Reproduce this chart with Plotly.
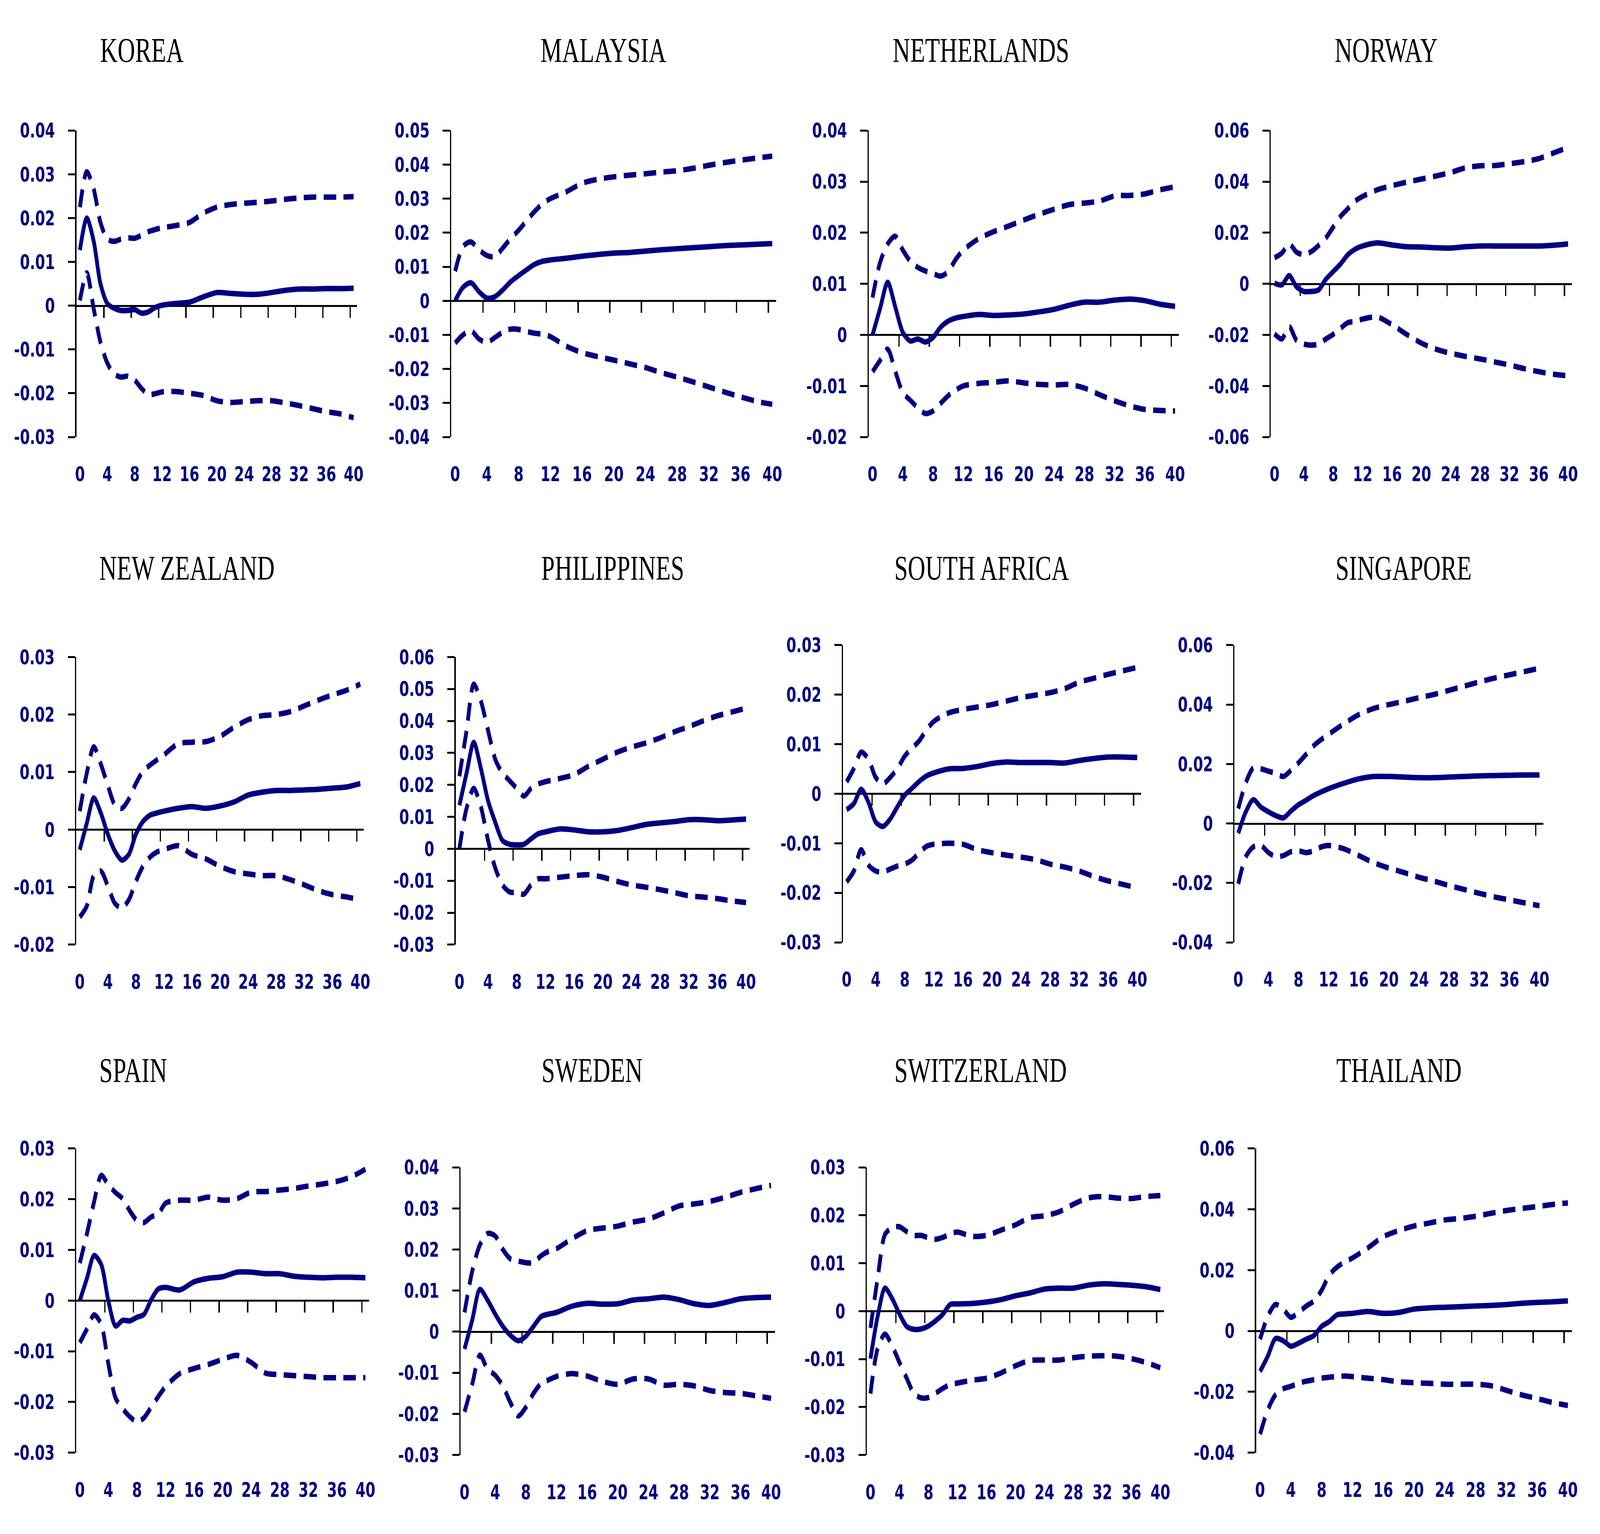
import plotly.graph_objects as go

W, H = 5868, 3928

# ---------------- data ----------------
X = [0, 1, 2, 3, 4, 5, 6, 7, 8, 9, 10, 11, 12, 14, 16, 18, 20, 22, 24, 26, 28, 30, 32, 34, 36, 38, 40]
X_TICKS = [0, 4, 8, 12, 16, 20, 24, 28, 32, 36, 40]
X_TICK_LABELS = ["0", "4", "8", "12", "16", "20", "24", "28", "32", "36", "40"]
X_MINOR_TICKS = [3.5, 7.5, 11.5, 15.5, 19.5, 23.5, 27.5, 31.5, 35.5, 39.5]

COUNTRIES = ["KOREA", "MALAYSIA", "NETHERLANDS", "NORWAY",
             "NEW ZEALAND", "PHILIPPINES", "SOUTH AFRICA", "SINGAPORE",
             "SPAIN", "SWEDEN", "SWITZERLAND", "THAILAND"]

KOREA_IRF = [0.0127, 0.0200, 0.0148, 0.0050, 0.0005, -0.0006, -0.0011, -0.0011, -0.0009, -0.0017, -0.0014, -0.0004, 0.0001,
             0.0005, 0.0008, 0.0020, 0.0030, 0.0028, 0.0026, 0.0026, 0.0030, 0.0035, 0.0038, 0.0038, 0.0039, 0.0039, 0.0040]
KOREA_UP = [0.0225, 0.0306, 0.0267, 0.0190, 0.0152, 0.0147, 0.0152, 0.0155, 0.0154, 0.0161, 0.0169, 0.0174, 0.0178,
            0.0183, 0.0190, 0.0211, 0.0225, 0.0231, 0.0234, 0.0236, 0.0239, 0.0243, 0.0246, 0.0248, 0.0248, 0.0248, 0.0249]
KOREA_LO = [0.0012, 0.0075, -0.0006, -0.0083, -0.0131, -0.0156, -0.0163, -0.0161, -0.0170, -0.0189, -0.0203, -0.0201, -0.0197,
            -0.0196, -0.0200, -0.0205, -0.0217, -0.0221, -0.0219, -0.0217, -0.0217, -0.0222, -0.0228, -0.0235, -0.0242, -0.0247, -0.0256]

MALAYSIA_IRF = [0.0, 0.0040, 0.0053, 0.0027, 0.0008, 0.0012, 0.0032, 0.0056, 0.0074, 0.0091, 0.0107, 0.0116, 0.0120,
                0.0125, 0.0131, 0.0136, 0.0140, 0.0142, 0.0146, 0.0150, 0.0153, 0.0156, 0.0159, 0.0162, 0.0164, 0.0166, 0.0168]
MALAYSIA_UP = [0.0087, 0.0160, 0.0173, 0.0150, 0.0133, 0.0130, 0.0155, 0.0183, 0.0207, 0.0235, 0.0262, 0.0285, 0.0300,
               0.0320, 0.0345, 0.0357, 0.0364, 0.0369, 0.0373, 0.0378, 0.0382, 0.0389, 0.0398, 0.0406, 0.0413, 0.0419, 0.0425]
MALAYSIA_LO = [-0.0124, -0.0100, -0.0088, -0.0112, -0.0122, -0.0108, -0.0092, -0.0083, -0.0084, -0.0090, -0.0095, -0.0098, -0.0105,
               -0.0133, -0.0152, -0.0164, -0.0174, -0.0185, -0.0196, -0.0211, -0.0224, -0.0238, -0.0253, -0.0268, -0.0282, -0.0295, -0.0304]

NETHERLANDS_IRF = [0.0, 0.0052, 0.0103, 0.0055, 0.0005, -0.0012, -0.0008, -0.0014, -0.0005, 0.0015, 0.0027, 0.0033, 0.0036,
                   0.0040, 0.0038, 0.0039, 0.0041, 0.0045, 0.0050, 0.0058, 0.0064, 0.0064, 0.0068, 0.0070, 0.0067, 0.0060, 0.0056]
NETHERLANDS_UP = [0.0073, 0.0142, 0.0178, 0.0193, 0.0166, 0.0144, 0.0132, 0.0125, 0.0120, 0.0115, 0.0124, 0.0148, 0.0166,
                  0.0188, 0.0202, 0.0213, 0.0225, 0.0236, 0.0246, 0.0255, 0.0258, 0.0262, 0.0272, 0.0273, 0.0276, 0.0284, 0.0290]
NETHERLANDS_LO = [-0.0072, -0.0050, -0.0028, -0.0071, -0.0113, -0.0128, -0.0143, -0.0154, -0.0149, -0.0134, -0.0119, -0.0108, -0.0100,
                  -0.0095, -0.0093, -0.0090, -0.0094, -0.0097, -0.0098, -0.0097, -0.0104, -0.0117, -0.0129, -0.0139, -0.0146, -0.0148, -0.0149]

NORWAY_IRF = [0.0002, -0.0004, 0.0032, -0.0012, -0.0030, -0.0030, -0.0024, 0.0018, 0.0048, 0.0078, 0.0114, 0.0136, 0.0148,
              0.0160, 0.0152, 0.0145, 0.0144, 0.0141, 0.0140, 0.0145, 0.0148, 0.0148, 0.0148, 0.0148, 0.0148, 0.0151, 0.0156]
NORWAY_UP = [0.0102, 0.0120, 0.0156, 0.0124, 0.0114, 0.0126, 0.0150, 0.0180, 0.0222, 0.0264, 0.0294, 0.0324, 0.0342,
             0.0368, 0.0384, 0.0398, 0.0410, 0.0422, 0.0436, 0.0454, 0.0462, 0.0463, 0.0470, 0.0478, 0.0490, 0.0512, 0.0534]
NORWAY_LO = [-0.0196, -0.0216, -0.0168, -0.0222, -0.0236, -0.0240, -0.0236, -0.0216, -0.0198, -0.0174, -0.0152, -0.0148, -0.0138,
             -0.0130, -0.0160, -0.0198, -0.0232, -0.0256, -0.0272, -0.0284, -0.0294, -0.0306, -0.0318, -0.0332, -0.0344, -0.0354, -0.0360]

NEW_ZEALAND_IRF = [-0.0035, 0.0011, 0.0055, 0.0029, -0.0008, -0.0037, -0.0053, -0.0043, -0.0008, 0.0014, 0.0025, 0.0029, 0.0032,
                   0.0037, 0.0040, 0.0037, 0.0041, 0.0048, 0.0060, 0.0065, 0.0068, 0.0068, 0.0069, 0.0070, 0.0072, 0.0074, 0.0080]
NEW_ZEALAND_UP = [0.0032, 0.0098, 0.0144, 0.0114, 0.0077, 0.0043, 0.0037, 0.0053, 0.0080, 0.0101, 0.0112, 0.0121, 0.0130,
                  0.0149, 0.0152, 0.0153, 0.0162, 0.0178, 0.0191, 0.0198, 0.0200, 0.0205, 0.0215, 0.0225, 0.0234, 0.0242, 0.0253]
NEW_ZEALAND_LO = [-0.0152, -0.0133, -0.0080, -0.0072, -0.0098, -0.0128, -0.0136, -0.0122, -0.0090, -0.0064, -0.0048, -0.0039, -0.0035,
                  -0.0028, -0.0043, -0.0051, -0.0064, -0.0073, -0.0077, -0.0080, -0.0080, -0.0087, -0.0096, -0.0106, -0.0113, -0.0117, -0.0122]

PHILIPPINES_IRF = [0.0136, 0.0237, 0.0333, 0.0251, 0.0150, 0.0083, 0.0026, 0.0014, 0.0012, 0.0014, 0.0031, 0.0047, 0.0053,
                   0.0062, 0.0059, 0.0053, 0.0053, 0.0057, 0.0066, 0.0076, 0.0081, 0.0085, 0.0091, 0.0091, 0.0088, 0.0090, 0.0093]
PHILIPPINES_UP = [0.0227, 0.0370, 0.0515, 0.0462, 0.0370, 0.0280, 0.0237, 0.0213, 0.0189, 0.0165, 0.0189, 0.0203, 0.0210,
                  0.0220, 0.0232, 0.0258, 0.0280, 0.0302, 0.0318, 0.0331, 0.0347, 0.0366, 0.0382, 0.0400, 0.0416, 0.0428, 0.0440]
PHILIPPINES_LO = [0.0000, 0.0127, 0.0189, 0.0131, 0.0026, -0.0060, -0.0113, -0.0135, -0.0137, -0.0142, -0.0113, -0.0094, -0.0094,
                  -0.0089, -0.0084, -0.0081, -0.0089, -0.0102, -0.0113, -0.0120, -0.0128, -0.0137, -0.0147, -0.0151, -0.0156, -0.0163, -0.0168]

SOUTH_AFRICA_IRF = [-0.0032, -0.0020, 0.0009, -0.0017, -0.0057, -0.0066, -0.0051, -0.0026, -0.0003, 0.0011, 0.0025, 0.0036, 0.0042,
                    0.0050, 0.0051, 0.0055, 0.0061, 0.0064, 0.0063, 0.0063, 0.0063, 0.0062, 0.0067, 0.0071, 0.0074, 0.0074, 0.0073]
SOUTH_AFRICA_UP = [0.0024, 0.0051, 0.0084, 0.0070, 0.0033, 0.0020, 0.0033, 0.0051, 0.0076, 0.0092, 0.0107, 0.0129, 0.0146,
                   0.0163, 0.0170, 0.0175, 0.0180, 0.0187, 0.0194, 0.0199, 0.0204, 0.0212, 0.0225, 0.0233, 0.0241, 0.0248, 0.0255]
SOUTH_AFRICA_LO = [-0.0178, -0.0156, -0.0113, -0.0144, -0.0156, -0.0158, -0.0152, -0.0146, -0.0142, -0.0134, -0.0119, -0.0106, -0.0102,
                   -0.0100, -0.0102, -0.0113, -0.0119, -0.0124, -0.0128, -0.0133, -0.0142, -0.0148, -0.0156, -0.0167, -0.0176, -0.0183, -0.0190]

SINGAPORE_IRF = [-0.0033, 0.0039, 0.0080, 0.0055, 0.0039, 0.0026, 0.0019, 0.0042, 0.0063, 0.0078, 0.0094, 0.0106, 0.0117,
                 0.0135, 0.0150, 0.0158, 0.0158, 0.0156, 0.0154, 0.0154, 0.0156, 0.0158, 0.0160, 0.0161, 0.0162, 0.0163, 0.0163]
SINGAPORE_UP = [0.0050, 0.0137, 0.0187, 0.0184, 0.0176, 0.0168, 0.0158, 0.0179, 0.0204, 0.0232, 0.0261, 0.0282, 0.0300,
                0.0335, 0.0366, 0.0387, 0.0400, 0.0411, 0.0423, 0.0434, 0.0448, 0.0462, 0.0476, 0.0489, 0.0500, 0.0511, 0.0522]
SINGAPORE_LO = [-0.0203, -0.0112, -0.0079, -0.0074, -0.0098, -0.0112, -0.0108, -0.0095, -0.0092, -0.0098, -0.0092, -0.0079, -0.0074,
                -0.0085, -0.0108, -0.0132, -0.0150, -0.0165, -0.0181, -0.0194, -0.0209, -0.0222, -0.0235, -0.0247, -0.0257, -0.0267, -0.0277]

SPAIN_IRF = [0.0, 0.0044, 0.0089, 0.0071, -0.0001, -0.0050, -0.0039, -0.0040, -0.0033, -0.0027, 0.0002, 0.0023, 0.0026,
             0.0021, 0.0037, 0.0044, 0.0047, 0.0056, 0.0056, 0.0053, 0.0053, 0.0048, 0.0046, 0.0045, 0.0046, 0.0046, 0.0045]
SPAIN_UP = [0.0074, 0.0132, 0.0195, 0.0247, 0.0228, 0.0213, 0.0201, 0.0177, 0.0158, 0.0154, 0.0165, 0.0171, 0.0192,
            0.0198, 0.0198, 0.0204, 0.0198, 0.0201, 0.0214, 0.0215, 0.0218, 0.0221, 0.0226, 0.0230, 0.0235, 0.0244, 0.0259]
SPAIN_LO = [-0.0083, -0.0056, -0.0028, -0.0047, -0.0125, -0.0192, -0.0213, -0.0229, -0.0239, -0.0231, -0.0210, -0.0189, -0.0170,
            -0.0144, -0.0134, -0.0126, -0.0116, -0.0108, -0.0122, -0.0143, -0.0146, -0.0148, -0.0150, -0.0152, -0.0152, -0.0152, -0.0152]

SWEDEN_IRF = [-0.0042, 0.0028, 0.0103, 0.0077, 0.0043, 0.0013, -0.0009, -0.0022, -0.0011, 0.0013, 0.0037, 0.0043, 0.0047,
              0.0062, 0.0069, 0.0067, 0.0068, 0.0077, 0.0080, 0.0084, 0.0078, 0.0068, 0.0064, 0.0071, 0.0080, 0.0083, 0.0084]
SWEDEN_UP = [0.0047, 0.0147, 0.0211, 0.0239, 0.0233, 0.0200, 0.0177, 0.0172, 0.0168, 0.0168, 0.0185, 0.0196, 0.0202,
             0.0226, 0.0246, 0.0252, 0.0257, 0.0267, 0.0274, 0.0289, 0.0306, 0.0311, 0.0317, 0.0327, 0.0339, 0.0348, 0.0356]
SWEDEN_LO = [-0.0195, -0.0128, -0.0057, -0.0091, -0.0106, -0.0132, -0.0173, -0.0205, -0.0184, -0.0150, -0.0126, -0.0117, -0.0109,
             -0.0102, -0.0108, -0.0121, -0.0128, -0.0115, -0.0115, -0.0130, -0.0128, -0.0132, -0.0143, -0.0148, -0.0150, -0.0156, -0.0162]

SWITZERLAND_IRF = [-0.0099, -0.0010, 0.0048, 0.0026, -0.0006, -0.0032, -0.0038, -0.0037, -0.0031, -0.0020, -0.0006, 0.0014, 0.0015,
                   0.0016, 0.0019, 0.0024, 0.0032, 0.0038, 0.0046, 0.0048, 0.0048, 0.0054, 0.0057, 0.0056, 0.0054, 0.0051, 0.0045]
SWITZERLAND_UP = [-0.0035, 0.0070, 0.0160, 0.0174, 0.0176, 0.0166, 0.0158, 0.0158, 0.0153, 0.0150, 0.0154, 0.0161, 0.0165,
                  0.0156, 0.0158, 0.0169, 0.0180, 0.0195, 0.0199, 0.0207, 0.0223, 0.0236, 0.0239, 0.0236, 0.0235, 0.0239, 0.0241]
SWITZERLAND_LO = [-0.0172, -0.0077, -0.0048, -0.0073, -0.0107, -0.0140, -0.0172, -0.0181, -0.0180, -0.0171, -0.0161, -0.0153, -0.0150,
                  -0.0144, -0.0140, -0.0129, -0.0114, -0.0103, -0.0102, -0.0102, -0.0097, -0.0094, -0.0093, -0.0094, -0.0099, -0.0107, -0.0118]

THAILAND_IRF = [-0.0133, -0.0083, -0.0025, -0.0032, -0.0050, -0.0040, -0.0027, -0.0015, 0.0015, 0.0031, 0.0053, 0.0056, 0.0058,
                0.0064, 0.0058, 0.0061, 0.0072, 0.0076, 0.0078, 0.0080, 0.0082, 0.0084, 0.0087, 0.0091, 0.0094, 0.0096, 0.0099]
THAILAND_UP = [-0.0027, 0.0048, 0.0087, 0.0072, 0.0045, 0.0061, 0.0082, 0.0099, 0.0134, 0.0184, 0.0210, 0.0227, 0.0240,
               0.0273, 0.0310, 0.0330, 0.0345, 0.0355, 0.0365, 0.0370, 0.0377, 0.0387, 0.0396, 0.0403, 0.0409, 0.0416, 0.0421]
THAILAND_LO = [-0.0339, -0.0260, -0.0210, -0.0190, -0.0182, -0.0172, -0.0165, -0.0160, -0.0155, -0.0152, -0.0150, -0.0148, -0.0150,
               -0.0155, -0.0160, -0.0167, -0.0170, -0.0172, -0.0175, -0.0175, -0.0175, -0.0180, -0.0195, -0.0210, -0.0222, -0.0235, -0.0245]

SERIES = {
    "KOREA": (KOREA_IRF, KOREA_UP, KOREA_LO),
    "MALAYSIA": (MALAYSIA_IRF, MALAYSIA_UP, MALAYSIA_LO),
    "NETHERLANDS": (NETHERLANDS_IRF, NETHERLANDS_UP, NETHERLANDS_LO),
    "NORWAY": (NORWAY_IRF, NORWAY_UP, NORWAY_LO),
    "NEW ZEALAND": (NEW_ZEALAND_IRF, NEW_ZEALAND_UP, NEW_ZEALAND_LO),
    "PHILIPPINES": (PHILIPPINES_IRF, PHILIPPINES_UP, PHILIPPINES_LO),
    "SOUTH AFRICA": (SOUTH_AFRICA_IRF, SOUTH_AFRICA_UP, SOUTH_AFRICA_LO),
    "SINGAPORE": (SINGAPORE_IRF, SINGAPORE_UP, SINGAPORE_LO),
    "SPAIN": (SPAIN_IRF, SPAIN_UP, SPAIN_LO),
    "SWEDEN": (SWEDEN_IRF, SWEDEN_UP, SWEDEN_LO),
    "SWITZERLAND": (SWITZERLAND_IRF, SWITZERLAND_UP, SWITZERLAND_LO),
    "THAILAND": (THAILAND_IRF, THAILAND_UP, THAILAND_LO),
}

Y_TICKS = {
    "KOREA": [-0.03, -0.02, -0.01, 0, 0.01, 0.02, 0.03, 0.04],
    "MALAYSIA": [-0.04, -0.03, -0.02, -0.01, 0, 0.01, 0.02, 0.03, 0.04, 0.05],
    "NETHERLANDS": [-0.02, -0.01, 0, 0.01, 0.02, 0.03, 0.04],
    "NORWAY": [-0.06, -0.04, -0.02, 0, 0.02, 0.04, 0.06],
    "NEW ZEALAND": [-0.02, -0.01, 0, 0.01, 0.02, 0.03],
    "PHILIPPINES": [-0.03, -0.02, -0.01, 0, 0.01, 0.02, 0.03, 0.04, 0.05, 0.06],
    "SOUTH AFRICA": [-0.03, -0.02, -0.01, 0, 0.01, 0.02, 0.03],
    "SINGAPORE": [-0.04, -0.02, 0, 0.02, 0.04, 0.06],
    "SPAIN": [-0.03, -0.02, -0.01, 0, 0.01, 0.02, 0.03],
    "SWEDEN": [-0.03, -0.02, -0.01, 0, 0.01, 0.02, 0.03, 0.04],
    "SWITZERLAND": [-0.03, -0.02, -0.01, 0, 0.01, 0.02, 0.03],
    "THAILAND": [-0.04, -0.02, 0, 0.02, 0.04, 0.06],
}

# ---------------- layout (pixel boxes: left, right, top, bottom; title left, title centre y) ----------------
BOXES = {
    "KOREA": (277, 1311, 309, 1106, 362, 100),
    "MALAYSIA": (1658, 2856, 309, 1106, 1985, 100),
    "NETHERLANDS": (3197, 4340, 309, 1106, 3283, 100),
    "NORWAY": (4679, 5788, 309, 1106, 4912, 100),
    "NEW ZEALAND": (276, 1336, 1678, 2426, 359, 1446),
    "PHILIPPINES": (1675, 2758, 1678, 2426, 1988, 1446),
    "SOUTH AFRICA": (3102, 4200, 1647, 2420, 3289, 1446),
    "SINGAPORE": (4545, 5683, 1647, 2420, 4915, 1446),
    "SPAIN": (276, 1355, 2956, 3747, 359, 2752),
    "SWEDEN": (1693, 2851, 3005, 3753, 1989, 2752),
    "SWITZERLAND": (3190, 4285, 3005, 3753, 3289, 2752),
    "THAILAND": (4625, 5788, 2956, 3747, 4918, 2752),
}

NAVY = "#000080"
LINE_W = 14
DASH = "46px,27px"
AXIS_W = 5
TICK_FONT = dict(family="DejaVu Sans", size=52, color=NAVY, weight="bold")
TITLE_FONT = dict(family="Liberation Serif", size=89, color="black")


def fmt(v):
    s = f"{v:.2f}".rstrip("0").rstrip(".")
    return "0" if s in ("-0", "") else s


fig = go.Figure()
layout = dict(width=W, height=H, autosize=False, margin=dict(l=0, r=0, t=0, b=0, pad=0),
              paper_bgcolor="white", plot_bgcolor="white", showlegend=False)
annotations = []
n = len(COUNTRIES)

for i, c in enumerate(COUNTRIES, start=1):
    left, right, top, bottom, tx, ty = BOXES[c]
    xd = [left / W, right / W]
    yd = [1 - bottom / H, 1 - top / H]
    yt = Y_TICKS[c]
    ymin, ymax = yt[0], yt[-1]
    xs = "" if i == 1 else str(i)
    xl = str(i + n)  # id of the axis carrying the category labels
    irf, up, lo = SERIES[c]
    for ys, dash in ((up, DASH), (lo, DASH), (irf, "solid")):
        fig.add_trace(go.Scatter(x=X, y=ys, mode="lines", xaxis="x" + xs, yaxis="y" + xs,
                                 line=dict(color=NAVY, width=LINE_W, dash=dash, shape="spline", smoothing=0.8),
                                 hoverinfo="skip"))
    # empty trace so that the label axis is drawn
    fig.add_trace(go.Scatter(x=[None], y=[None], mode="lines", xaxis="x" + xl, yaxis="y" + xs,
                             hoverinfo="skip", showlegend=False))
    zero_pos = yd[0] + (0 - ymin) / (ymax - ymin) * (yd[1] - yd[0])
    # axis drawn along y = 0 with tick marks between categories
    layout["xaxis" + xs] = dict(domain=xd, range=[-0.5, 40.5], anchor="free", position=zero_pos,
                                showline=True, linecolor="black", linewidth=AXIS_W,
                                ticks="outside", ticklen=28, tickwidth=AXIS_W, tickcolor="black",
                                tickmode="array", tickvals=X_MINOR_TICKS, showticklabels=False,
                                showgrid=False, zeroline=False, layer="below traces", fixedrange=True)
    # category labels at the bottom of the panel
    layout["xaxis" + xl] = dict(domain=xd, range=[-0.5, 40.5], anchor="y" + xs, overlaying="x" + xs,
                                side="bottom", showline=False, ticks="", tickmode="array",
                                tickvals=X_TICKS, ticktext=X_TICK_LABELS, tickfont=TICK_FONT,
                                ticklabelstandoff=60, showgrid=False, zeroline=False, fixedrange=True)
    layout["yaxis" + xs] = dict(domain=yd, range=[ymin, ymax], anchor="x" + xs,
                                showline=True, linecolor="black", linewidth=AXIS_W,
                                ticks="outside", ticklen=26, tickwidth=AXIS_W, tickcolor="black",
                                tickmode="array", tickvals=yt, ticktext=[fmt(v) for v in yt],
                                tickfont=TICK_FONT, ticklabelstandoff=38,
                                showgrid=False, zeroline=False, fixedrange=True)
    annotations.append(dict(text=c, x=tx / W, y=1 - ty / H, xref="paper", yref="paper",
                            xanchor="left", yanchor="middle", showarrow=False, font=TITLE_FONT))

layout["annotations"] = annotations
fig.update_layout(**layout)

# stretch the fixed-size figure so that it fills the whole browser window,
# and clip its layout box so the page is no larger than the window
FIT_JS = """
var gd = document.getElementById('{plot_id}');
var wrap = gd.parentElement;
var vw = window.innerWidth, vh = window.innerHeight;
var sx = vw / %d, sy = vh / %d;
[document.documentElement, document.body].forEach(function(el){
  el.style.margin = '0'; el.style.padding = '0'; el.style.overflow = 'hidden';
});
wrap.style.position = 'relative';
wrap.style.overflow = 'hidden';
wrap.style.width = vw + 'px';
wrap.style.height = vh + 'px';
gd.style.position = 'absolute';
gd.style.left = '0px';
gd.style.top = '0px';
gd.style.width = '%dpx';
gd.style.height = '%dpx';
gd.style.transformOrigin = '0 0';
gd.style.transform = 'scale(' + sx + ',' + sy + ')';
""" % (W, H, W, H)

fig.write_html("out.html", config={"responsive": False, "displayModeBar": False}, post_script=FIT_JS)
